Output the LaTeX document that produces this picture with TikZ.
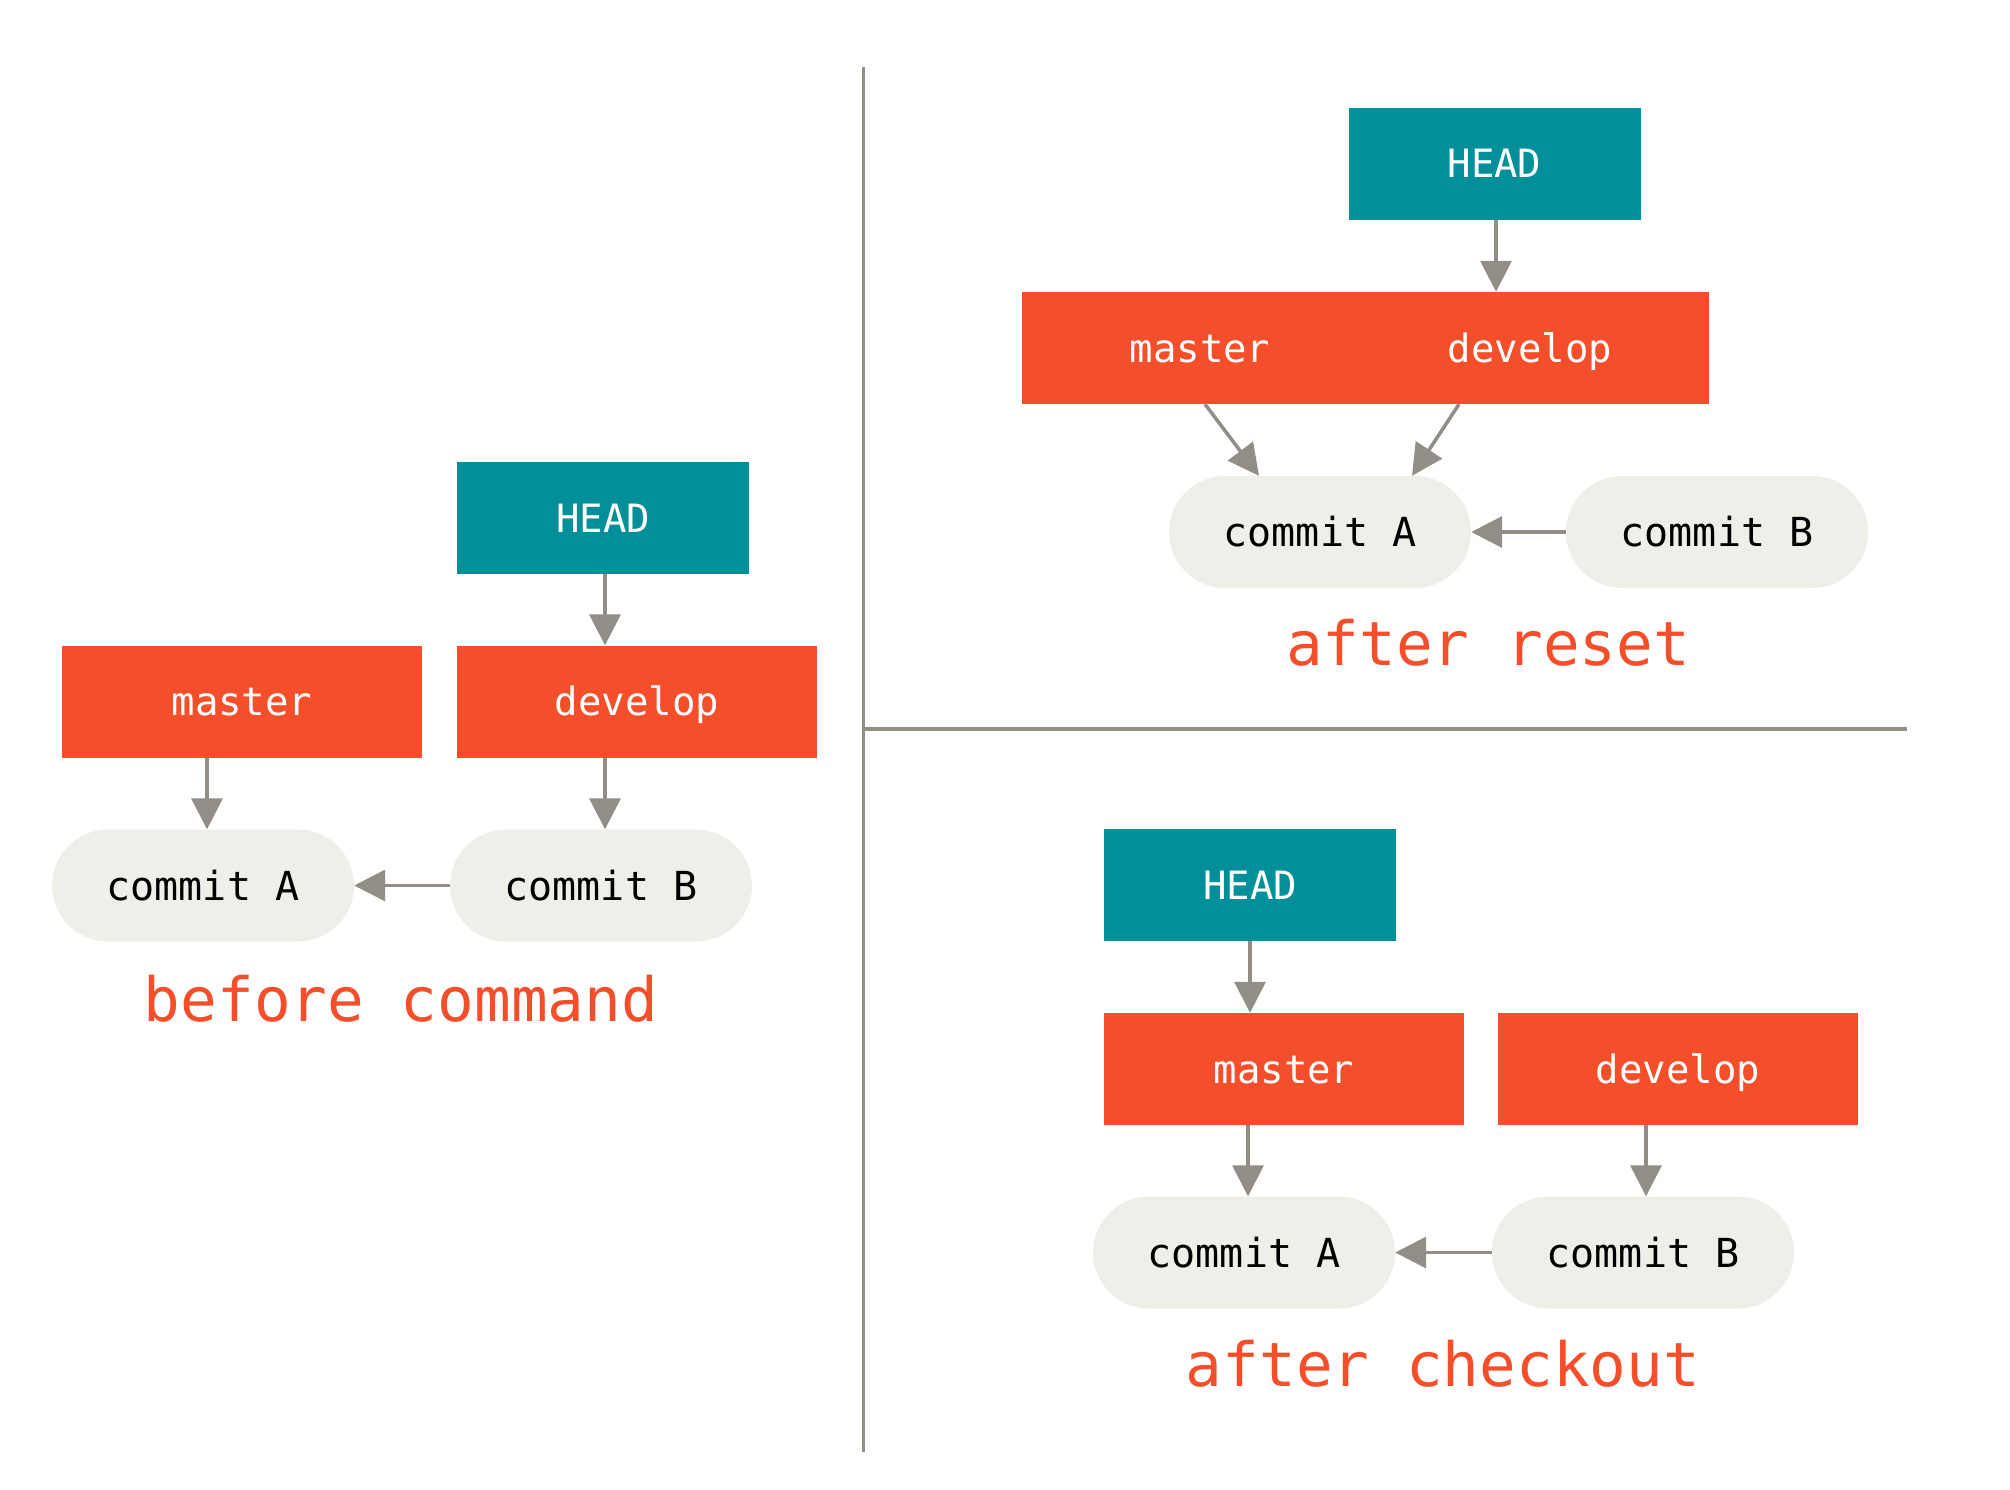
\documentclass[tikz,border=0pt]{standalone}
\usepackage{fontspec}
\setmonofont{DejaVu Sans Mono}
\usetikzlibrary{arrows.meta}
\definecolor{headteal}{HTML}{01909A}
\definecolor{branchred}{HTML}{F44F2A}
\definecolor{commitfill}{HTML}{EFEEE8}
\definecolor{linegray}{HTML}{928D86}
\tikzset{
  box/.style={inner sep=0pt, minimum height=112pt, text height=28pt, text depth=0pt,
    font=\ttfamily\fontsize{39}{45}\selectfont, text=white},
  headbox/.style={box, fill=headteal, minimum width=292pt},
  branchbox/.style={box, fill=branchred, minimum width=360pt},
  commitbox/.style={inner sep=0pt, minimum height=112pt, minimum width=302pt,
    rounded corners=56pt, fill=commitfill, text height=29pt, text depth=0pt,
    font=\ttfamily\fontsize{40}{46}\selectfont, text=black},
  ptr/.style={draw=linegray, line width=3.5pt, -{Triangle[length=31pt,width=31pt]}},
  divider/.style={draw=linegray, line width=3.5pt},
  caption/.style={anchor=base, text=branchred, inner sep=0pt,
    font=\ttfamily\fontsize{61}{70}\selectfont}
}
\begin{document}
\begin{tikzpicture}[x=1pt,y=-1pt]
\useasboundingbox (0,0) rectangle (2010,1490);
% dividers
\coordinate (vtop) at (863.5,67);
\coordinate (vbot) at (863.5,1452);
\coordinate (hleft) at (863.5,729);
\coordinate (hright) at (1907,729);
\draw[divider] (vtop) -- (vbot);
\draw[divider] (hleft) -- (hright);

% before command
\node[headbox] (LH) at (603,518) {HEAD};
\node[branchbox] (LM) at (242,701.5) {master};
\node[branchbox] (LD) at (637,701.5) {develop};
\node[commitbox] (LA) at (203,885.5) {commit A};
\node[commitbox] (LB) at (601,885.5) {commit B};
\draw[ptr] ([xshift=2pt]LH.south) -- ([xshift=2pt]LH.south |- LD.north);
\draw[ptr] ([xshift=4pt]LA.north |- LM.south) -- ([xshift=4pt]LA.north);
\draw[ptr] ([xshift=4pt]LB.north |- LD.south) -- ([xshift=4pt]LB.north);
\draw[ptr] (LB.west) -- (LA.east);
\node[caption] (Lcap) at (401,1021) {before command};

% after reset
\node[headbox] (RH) at (1494.5,164) {HEAD};
\node[box, fill=branchred, minimum width=687pt] (RR) at (1365.5,348) {};
\node[box] (RRm) at (1200,348) {master};
\node[box] (RRd) at (1530,348) {develop};
\node[commitbox] (RA) at (1320,532) {commit A};
\node[commitbox] (RB) at (1717,532) {commit B};
\draw[ptr] ([xshift=1.5pt]RH.south) -- ([xshift=1.5pt]RH.south |- RR.north);
\draw[ptr] ([xshift=-160.5pt]RR.south) -- ([xshift=-61pt]RA.north);
\draw[ptr] ([xshift=93.5pt]RR.south) -- ([xshift=92pt]RA.north);
\draw[ptr] (RB.west) -- (RA.east);
\node[caption] (Rcap) at (1488,665) {after reset};

% after checkout
\node[headbox] (CH) at (1250,885) {HEAD};
\node[branchbox] (CM) at (1284,1069) {master};
\node[branchbox] (CD) at (1678,1069) {develop};
\node[commitbox] (CA) at (1244,1252.5) {commit A};
\node[commitbox] (CB) at (1643,1252.5) {commit B};
\draw[ptr] (CH.south) -- (CH.south |- CM.north);
\draw[ptr] ([xshift=4pt]CA.north |- CM.south) -- ([xshift=4pt]CA.north);
\draw[ptr] ([xshift=3pt]CB.north |- CD.south) -- ([xshift=3pt]CB.north);
\draw[ptr] (CB.west) -- (CA.east);
\node[caption] (Ccap) at (1443,1386) {after checkout};
\end{tikzpicture}
\end{document}
